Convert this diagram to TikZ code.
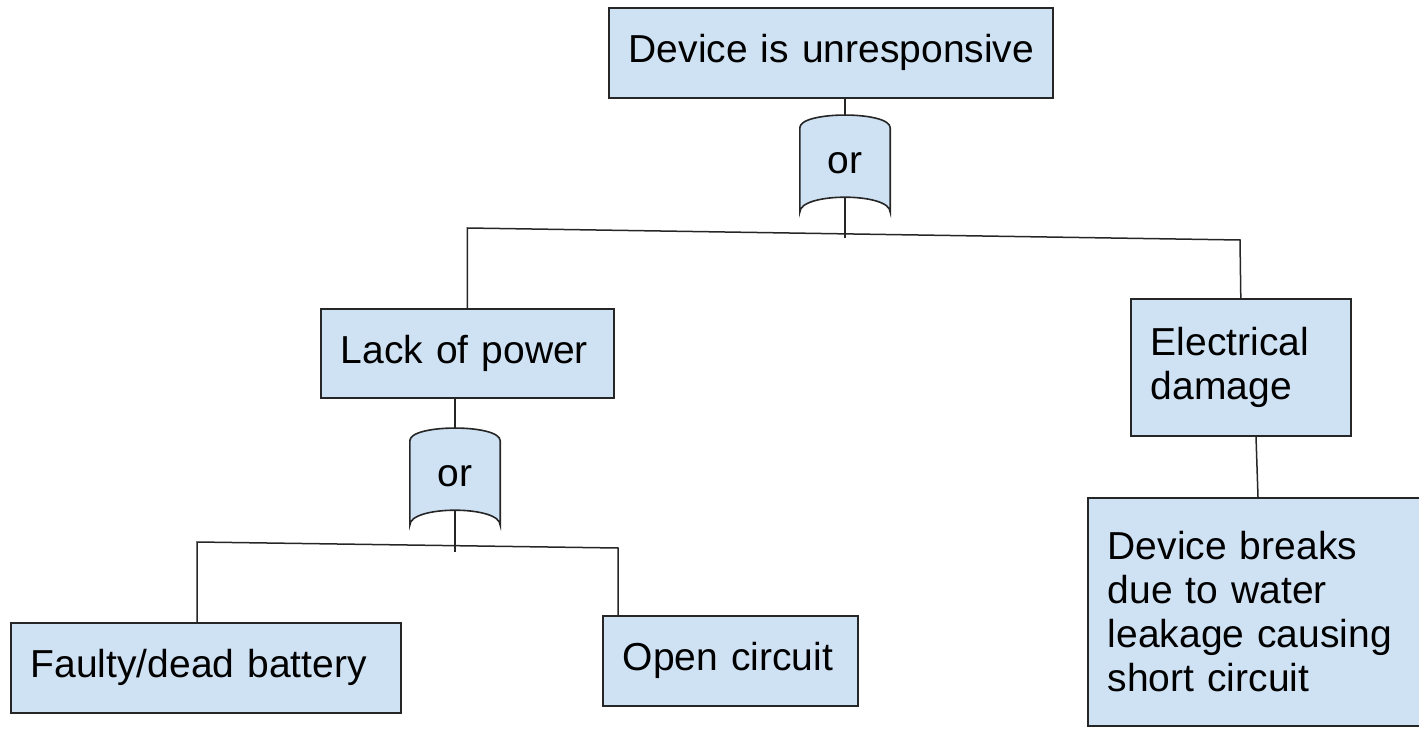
\documentclass[tikz,border=0pt]{standalone}
\usepackage{fontspec}
\setmainfont{Liberation Sans}
\usetikzlibrary{calc,backgrounds}
\definecolor{boxfill}{RGB}{207,226,243}
\definecolor{edgecol}{RGB}{38,38,38}
\tikzset{
  box/.style={draw=edgecol, line width=1.6pt, fill=boxfill, anchor=north west,
    inner xsep=20pt, inner ysep=0pt, align=left, font=\fontsize{39}{44}\selectfont},
  gatenode/.style={inner sep=0pt, minimum width=90pt, minimum height=97pt,
    font=\fontsize{39}{44}\selectfont},
  gateline/.style={draw=edgecol, line width=1.6pt, fill=boxfill},
  conn/.style={draw=edgecol, line width=1.5pt},
}
\newcommand{\orgateshape}[1]{%
  \draw[gateline] (#1.south west) -- ($(#1.north west)+(0,13)$)
    .. controls ($(#1.north west)+(0,-4)$) and ($(#1.north east)+(0,-4)$) .. ($(#1.north east)+(0,13)$)
    -- (#1.south east)
    .. controls ($(#1.south east)+(0,-20)$) and ($(#1.south west)+(0,-20)$) .. cycle;}
\begin{document}
\begin{tikzpicture}[x=1pt,y=-1pt]
\useasboundingbox (0,0) rectangle (1419,730);
% boxes
\node[box, text width=404pt, minimum height=90pt] (top) at (608,7) {\mbox{Device is unresponsive}};
\node[box, text width=253pt, minimum height=89pt] (lack) at (320,308) {\mbox{Lack of power}};
\node[box, text width=180pt, minimum height=137pt] (elec) at (1130,298) {Electrical\\damage};
\node[box, text width=330pt, minimum height=228pt] (dev) at (1087,497) {Device breaks\\due to water\\leakage causing\\short circuit};
\node[box, text width=350pt, minimum height=90pt] (faulty) at (10,622) {\mbox{Faulty/dead battery}};
\node[box, text width=215pt, minimum height=90pt] (open) at (602,615) {\mbox{Open circuit}};
% gates
\node[gatenode] (g1) at (845,163.5) {or};
\node[gatenode] (g2) at (455,476.5) {or};
\begin{scope}[on background layer]
  \orgateshape{g1}
  \orgateshape{g2}
\end{scope}
% connectors
\coordinate (b1l) at (467,228);
\coordinate (b1r) at (1240,240);
\coordinate (b1m) at (845,238);
\coordinate (b2l) at (197,542);
\coordinate (b2r) at (618,548);
\coordinate (b2m) at (455,552);
\draw[conn] (top.south -| g1.north) -- (g1.north);
\draw[conn] ($(g1.south)+(0,-15)$) -- (b1m);
\draw[conn] (lack.north) -- (lack.north |- b1l) -- (b1r) -- (elec.north);
\draw[conn] (lack.south -| g2.north) -- (g2.north);
\draw[conn] ($(g2.south)+(0,-15)$) -- (b2m);
\draw[conn] (faulty.north -| b2l) -- (b2l) -- (b2r) -- (open.north -| b2r);
\draw[conn] (elec.south -| b1r) ++(16,0) -- ($(dev.north west)+(171,0)$);
\end{tikzpicture}
\end{document}
